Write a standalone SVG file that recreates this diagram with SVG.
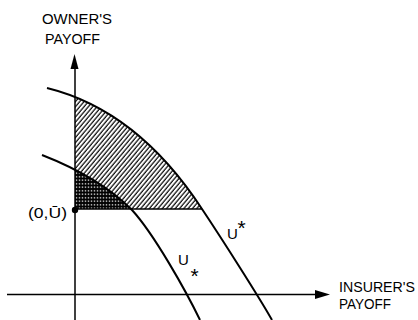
<svg xmlns="http://www.w3.org/2000/svg" width="418" height="320" viewBox="0 0 418 320">
  <style>
    .lbl { font-family: "Liberation Sans", Arial, sans-serif; font-size: 15px; fill: #000; }
    .star { font-family: "Liberation Sans", Arial, sans-serif; font-size: 21px; fill: #000; }
    .axis { stroke: #000; stroke-width: 1.5; fill: none; }
    .curve { stroke: #000; stroke-width: 2; fill: none; }
  </style>
  <defs>
    <pattern id="hatch" width="3.3" height="10" patternUnits="userSpaceOnUse" patternTransform="rotate(40)">
      <rect width="3.3" height="10" fill="#fff"/>
      <line x1="1" y1="0" x2="1" y2="10" stroke="#000" stroke-width="1.2"/>
    </pattern>
    <pattern id="dots" width="3" height="3.5" patternUnits="userSpaceOnUse">
      <rect width="3" height="3.5" fill="#000"/>
      <ellipse cx="1.5" cy="1.75" rx="0.9" ry="0.6" fill="#fff"/>
    </pattern>
    <clipPath id="quad">
      <rect x="75" y="0" width="343" height="209"/>
    </clipPath>
  </defs>

  <g id="regions" clip-path="url(#quad)">
    <path id="outer-region" d="M47,88 C120,106 170,160 202,209 L47,209 Z" fill="url(#hatch)"/>
    <path id="inner-region" d="M42,155 C82,170.6 110,188 132,210 L42,210 Z" fill="url(#dots)"/>
  </g>

  <g id="connectors">
    <line class="axis" x1="75" y1="68" x2="75" y2="320"/>
    <polygon points="74.5,54 70.5,69 78.5,69" fill="#000"/>
    <line class="axis" x1="7" y1="294.5" x2="316" y2="294.5"/>
    <polygon points="330,294.5 315,290 315,299" fill="#000"/>
    <line class="axis" x1="75" y1="209" x2="202" y2="209"/>
  </g>

  <g id="U-star-curve">
    <path class="curve" d="M47,88 C120,106 170,160 202,209 C222,239 260,298.5 272,320"/>
    <text class="lbl" x="227" y="239">U</text>
    <text class="star" x="237.5" y="235">*</text>
  </g>

  <g id="U-sub-curve">
    <path class="curve" d="M42,155 C82,170.6 110,188 132,210 C154,234 186,291 200,320"/>
    <text class="lbl" x="178" y="265">U</text>
    <text class="star" x="190.5" y="283">*</text>
  </g>

  <g id="point-0U">
    <circle cx="75" cy="210" r="3.2" fill="#000"/>
    <text class="lbl" x="28" y="218" textLength="39" lengthAdjust="spacingAndGlyphs">(0,Ū)</text>
  </g>

  <g id="y-label">
    <text class="lbl" x="42" y="24" textLength="70" lengthAdjust="spacingAndGlyphs">OWNER'S</text>
    <text class="lbl" x="45" y="44" textLength="55" lengthAdjust="spacingAndGlyphs">PAYOFF</text>
  </g>

  <g id="x-label">
    <text class="lbl" x="339" y="292" textLength="76" lengthAdjust="spacingAndGlyphs">INSURER'S</text>
    <text class="lbl" x="339" y="309" textLength="52" lengthAdjust="spacingAndGlyphs">PAYOFF</text>
  </g>
</svg>
